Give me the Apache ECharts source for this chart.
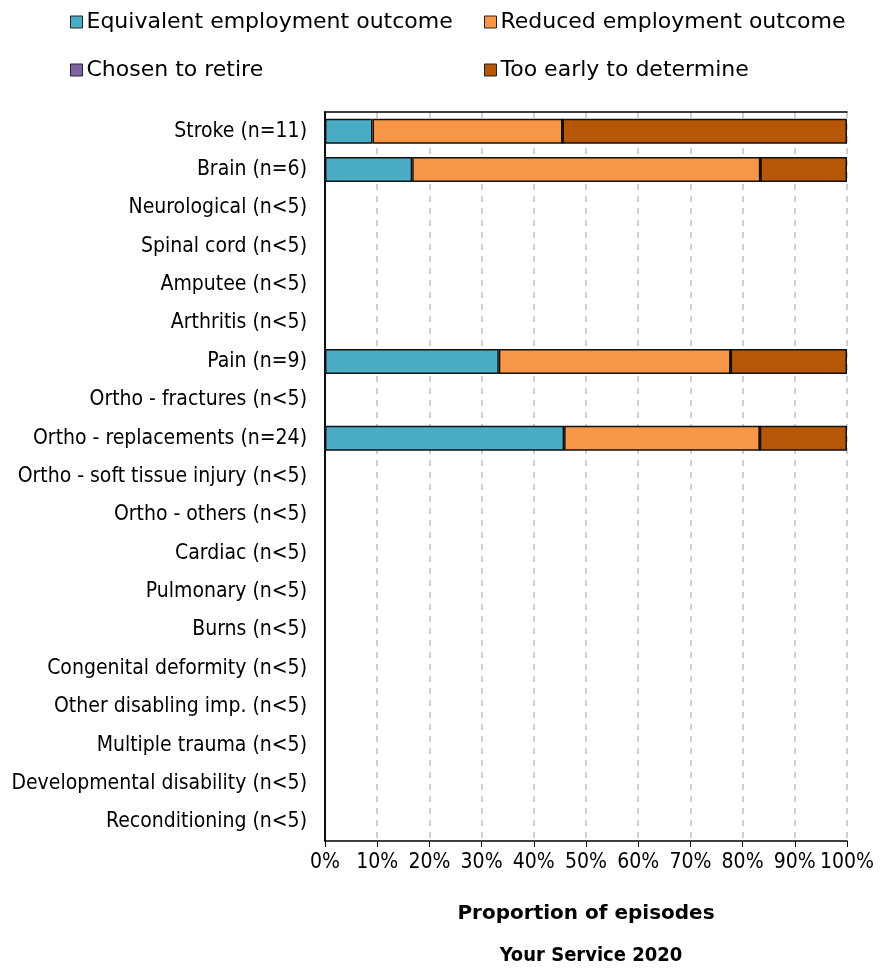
<!DOCTYPE html>
<html>
<head>
<meta charset="utf-8">
<script src="https://cdn.jsdelivr.net/npm/echarts@6/dist/echarts.min.js"></script>
<style>html,body{margin:0;padding:0;background:#fff}#c{width:885px;height:980px}</style>
</head>
<body>
<div id="c"></div>
<script>
const categories = ["Stroke (n=11)","Brain (n=6)","Neurological (n<5)","Spinal cord (n<5)","Amputee (n<5)","Arthritis (n<5)","Pain (n=9)","Ortho - fractures (n<5)","Ortho - replacements (n=24)","Ortho - soft tissue injury (n<5)","Ortho - others (n<5)","Cardiac (n<5)","Pulmonary (n<5)","Burns (n<5)","Congenital deformity (n<5)","Other disabling imp. (n<5)","Multiple trauma (n<5)","Developmental disability (n<5)","Reconditioning (n<5)"];
const seriesNames = ["Equivalent employment outcome","Reduced employment outcome","Chosen to retire","Too early to determine"];
const equivalent = [9.1,16.7,null,null,null,null,33.3,null,45.8,null,null,null,null,null,null,null,null,null,null];
const reduced    = [36.4,66.7,null,null,null,null,44.4,null,37.5,null,null,null,null,null,null,null,null,null,null];
const retired    = [0,0,null,null,null,null,0,null,0,null,null,null,null,null,null,null,null,null,null];
const tooEarly   = [54.5,16.6,null,null,null,null,22.3,null,16.7,null,null,null,null,null,null,null,null,null,null];
const xTicks = [0,10,20,30,40,50,60,70,80,90,100];
const colors = ["#4BACC6","#F79646","#8064A2","#B65708"];
const values = [equivalent, reduced, retired, tooEarly];
const FONT = "DejaVu Sans Condensed";
const FONT_WIDE = "DejaVu Sans";

const legendPos = [[70,11],[484,11],[70,59],[484,59]];
const chart = echarts.init(document.getElementById('c'));
chart.setOption({
  animation:false,
  color: colors,
  textStyle:{fontFamily:FONT},
  legend: seriesNames.map((n,i)=>({
    data:[n], left:legendPos[i][0], top:legendPos[i][1], padding:0,
    itemWidth:12, itemHeight:12, itemGap:4,
    icon:'rect',
    itemStyle:{borderColor:'#222', borderWidth:1},
    textStyle:{fontSize:22, color:'#000', fontFamily:FONT_WIDE, padding:[0,0,0,-1]}
  })),
  title:{text:'Your Service 2020', left:591, top:946, textAlign:'center', padding:0,
    textStyle:{fontSize:20, fontWeight:'bold', color:'#000', fontFamily:FONT}},
  grid:{left:325, right:38, top:112, bottom:139, show:false},
  xAxis:[{type:'value', min:xTicks[0], max:xTicks[xTicks.length-1], interval:10,
    name:'Proportion of episodes', nameLocation:'middle', nameGap:63,
    nameTextStyle:{fontSize:20, fontWeight:'bold', color:'#000', fontFamily:FONT_WIDE},
    axisLine:{show:true, lineStyle:{color:'#000', width:1.5}},
    axisTick:{show:true, length:6, lineStyle:{color:'#000'}},
    axisLabel:{formatter:'{value}%', fontSize:21, color:'#000', margin:11},
    splitLine:{show:true, lineStyle:{type:[6,6], color:'#c0c0c0', width:1.5}}
  },{type:'value', position:'top', min:0, max:100,
    axisLine:{show:true, lineStyle:{color:'#000', width:1.5}},
    axisTick:{show:false}, axisLabel:{show:false}, splitLine:{show:false}
  }],
  yAxis:[{type:'category', data:categories, inverse:true,
    axisLine:{show:true, lineStyle:{color:'#000', width:1.5}},
    axisTick:{show:false},
    axisLabel:{fontSize:21, color:'#000', margin:18}
  },{type:'category', data:categories, inverse:true, position:'right',
    axisLine:{show:true, lineStyle:{color:'#000', width:1.5}},
    axisTick:{show:false}, axisLabel:{show:false}
  }],
  series: seriesNames.map((n,i)=>({
    name:n, type:'bar', stack:'total', data:values[i], barWidth:25,
    itemStyle:{color:colors[i], borderColor:'#111', borderWidth:1.5}
  }))
});
</script>
</body>
</html>
